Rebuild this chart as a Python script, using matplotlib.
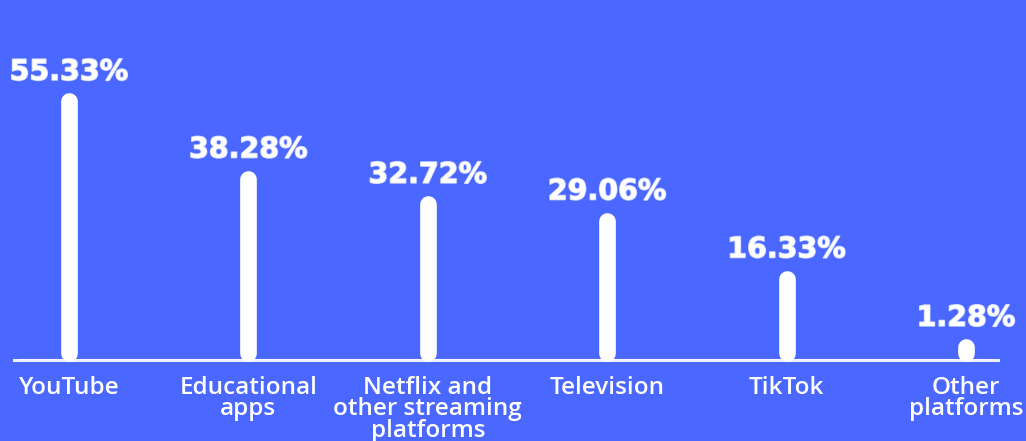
import numpy as np
import matplotlib.pyplot as plt
import matplotlib.patheffects as pe

# --- data ---
categories = ["YouTube", "Educational\napps", "Netflix and\nother streaming\nplatforms",
              "Television", "TikTok", "Other\nplatforms"]
values = [55.33, 38.28, 32.72, 29.06, 16.33, 1.28]
value_labels = ["55.33%", "38.28%", "32.72%", "29.06%", "16.33%", "1.28%"]

BG = "#4a67ff"
FG = "white"

fig = plt.figure(figsize=(10.26, 4.41), dpi=100, facecolor=BG)
ax = fig.add_axes([0, 0, 1, 1])
ax.set_facecolor(BG)

x = np.arange(len(values))
px_per_cat = 179.4
px_per_unit = 4.55
ax.set_xlim(-69 / px_per_cat, len(values) - 1 + (1026 - 966) / px_per_cat)
ax.set_ylim(-88 / px_per_unit, 353 / px_per_unit)

# rough baseline
ax.axhline(-7 / px_per_unit, xmin=14 / 1026, xmax=998 / 1026, color=FG, lw=2.2, alpha=0.9, zorder=1)
ax.axhline(-6.2 / px_per_unit, xmin=20 / 1026, xmax=990 / 1026, color=FG, lw=0.8, alpha=0.6, zorder=1)

# rounded bars
for xi, v in zip(x, values):
    ax.plot([xi, xi], [0, v], color=FG, lw=12, solid_capstyle="round", zorder=3)

# value labels
for xi, v, lab in zip(x, values, value_labels):
    ax.annotate(lab, (xi, v), xytext=(0, 11), textcoords="offset points",
                ha="center", va="bottom", fontsize=20.5, fontweight="bold",
                family=["DejaVu Sans"], color=FG,
                path_effects=[pe.withStroke(linewidth=1.2, foreground="#c9d2ff")])

# category labels
for xi, cat in zip(x, categories):
    ax.text(xi, -23 / px_per_unit, cat, ha="center", va="top", fontsize=17.5,
            family=["Open Sans"], fontweight="semibold", color=FG, linespacing=0.86)

ax.axis("off")
fig.savefig("out.png", dpi=100, facecolor=BG)
